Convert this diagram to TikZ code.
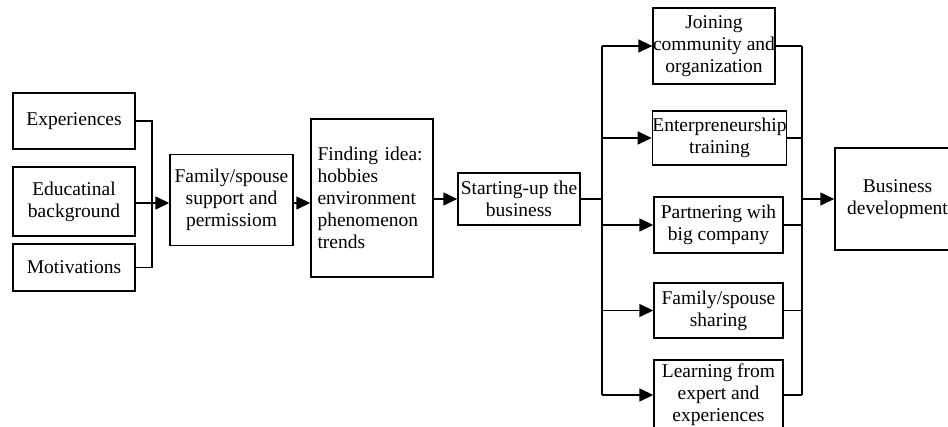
\documentclass[tikz,border=0pt]{standalone}
\usepackage{fontspec}
\setmainfont{Liberation Serif}
\usetikzlibrary{arrows.meta}
\begin{document}
\begin{tikzpicture}[x=1pt,y=-1pt, line width=1.4pt,
  box/.style={draw, align=center, inner sep=0pt, font=\fontsize{19.5}{22}\selectfont},
  arr/.style={-{Triangle[length=14pt,width=13pt]}}]
\useasboundingbox (0,0) rectangle (948,427);
% left column
\node[box, minimum width=122pt, minimum height=56pt] (exp) at (74,121) {Experiences};
\node[box, minimum width=122pt, minimum height=69pt] (edu) at (74,201.5) {Educatinal\\background};
\node[box, minimum width=122pt, minimum height=47pt] (mot) at (74,267.5) {Motivations};
\node[box, minimum width=123pt, minimum height=91pt] (fam) at (231.5,200) {Family/spouse\\support and\\permissiom};
\node[box, minimum width=122pt, minimum height=158pt, align=left, text width=109pt, inner xsep=6.5pt] (find) at (372,198) {Finding idea:\\hobbies\\environment\\phenomenon\\trends};
\node[box, minimum width=122pt, minimum height=52pt] (start) at (519,199) {Starting-up the\\business};
% right column
\node[box, minimum width=118pt, minimum height=76pt] (join) at (714,46) {Joining\\community and\\organization};
\node[box, minimum width=133pt, minimum height=54pt] (ent) at (719.5,138) {Enterpreneurship\\training};
\node[box, minimum width=129pt, minimum height=56pt] (part) at (718.5,225) {Partnering wih\\big company};
\node[box, minimum width=129pt, minimum height=55pt] (fsh) at (718.5,310.5) {Family/spouse\\sharing};
\node[box, minimum width=129pt, minimum height=70pt] (learn) at (718.5,395) {Learning from\\expert and\\experiences};
\node[box, minimum width=125pt, minimum height=102pt] (biz) at (897.5,199) {Business\\development};
% left bracket
\coordinate (jl) at (152,203);
\draw (exp.east) -| (jl);
\draw (mot.east) -| (jl);
\draw[arr] (edu.east |- jl) -- (fam.west |- jl);
\draw[arr] (fam.east |- jl) -- (find.west |- jl);
\draw[arr] (find.east |- start) -- (start.west);
% fan out
\coordinate (sp) at (602,199);
\draw (start.east) -- (sp);
\draw (sp |- join) -- (sp |- learn);
\foreach \n in {join,ent,part,fsh,learn}{
  \draw[arr] (sp |- \n) -- (\n.west);
}
% fan in
\coordinate (mp) at (802,199);
\foreach \n in {join,ent,part,fsh,learn}{
  \draw (\n.east) -- (mp |- \n);
}
\draw (mp |- join) -- (mp |- learn);
\draw[arr] (mp) -- (biz.west |- mp);
\end{tikzpicture}
\end{document}
